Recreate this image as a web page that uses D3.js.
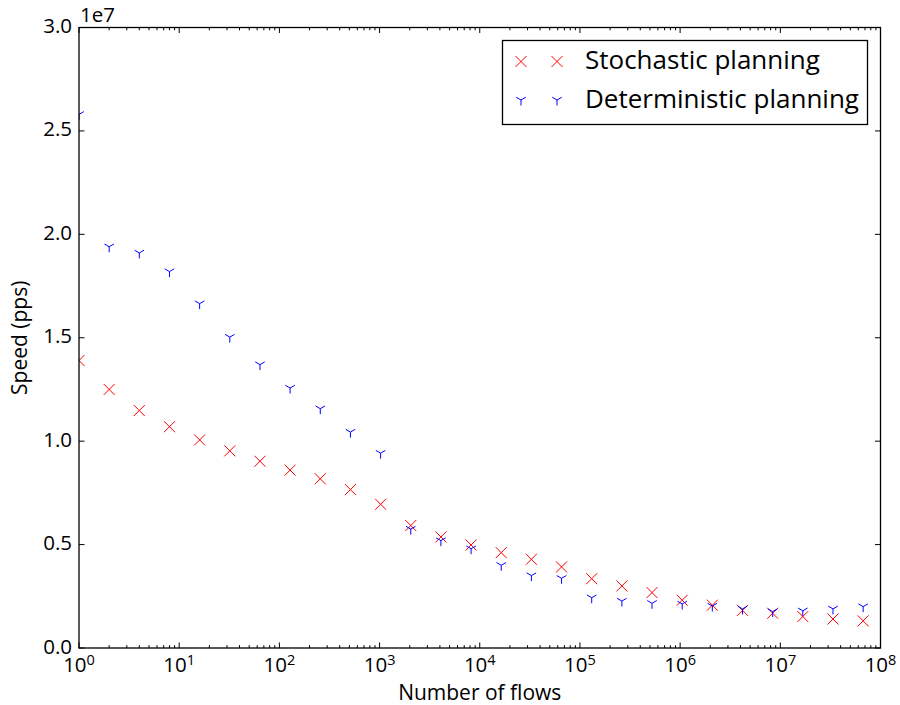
<!DOCTYPE html>
<html>
<head>
<meta charset="utf-8">
<script src="https://cdn.jsdelivr.net/npm/d3@7"></script>
<style>
  html, body { margin: 0; padding: 0; background: #fff; }
  svg { display: block; font-family: "Open Sans", "DejaVu Sans", sans-serif; }
</style>
</head>
<body>
<svg id="chart" width="900" height="705"></svg>
<script>
// Number of flows (powers of two)
const flows = [1, 2, 4, 8, 16, 32, 64, 128, 256, 512, 1024, 2048, 4096, 8192,
  16384, 32768, 65536, 131072, 262144, 524288, 1048576, 2097152, 4194304,
  8388608, 16777216, 33554432, 67108864];

// Forwarding speed in packets per second
const stochastic = [13.9e6, 12.5e6, 11.48e6, 10.7e6, 10.06e6, 9.53e6, 9.03e6, 8.6e6,
  8.18e6, 7.66e6, 6.95e6, 5.92e6, 5.37e6, 4.98e6, 4.61e6, 4.29e6, 3.92e6, 3.35e6,
  3.0e6, 2.68e6, 2.31e6, 2.07e6, 1.82e6, 1.68e6, 1.52e6, 1.40e6, 1.31e6];
const deterministic = [25.8e6, 19.4e6, 19.1e6, 18.2e6, 16.65e6, 15.03e6, 13.7e6, 12.57e6,
  11.57e6, 10.44e6, 9.42e6, 5.75e6, 5.19e6, 4.8e6, 4.0e6, 3.5e6, 3.37e6, 2.43e6,
  2.27e6, 2.16e6, 2.13e6, 2.03e6, 1.89e6, 1.76e6, 1.8e6, 1.89e6, 2.0e6];

const seriesNames = ["Stochastic planning", "Deterministic planning"];
const xTickExponents = [0, 1, 2, 3, 4, 5, 6, 7, 8];
const yTickValues = [0, 0.5e7, 1.0e7, 1.5e7, 2.0e7, 2.5e7, 3.0e7];
const yTickLabels = ["0.0", "0.5", "1.0", "1.5", "2.0", "2.5", "3.0"];

const svg = d3.select("#chart");
const L = 79, R = 880.5, T = 27.5, B = 648;

const x = d3.scaleLog().domain([1, 1e8]).range([L, R]);
const y = d3.scaleLinear().domain([0, 3e7]).range([B, T]);

const red = "#ff0000", blue = "#0000ff";
const ms = 11; // marker size in px

function xMarker(g, cx, cy) {
  const h = ms / 2;
  g.append("path")
    .attr("d", `M${cx - h},${cy - h}L${cx + h},${cy + h}M${cx - h},${cy + h}L${cx + h},${cy - h}`)
    .attr("stroke", red).attr("stroke-width", 1).attr("fill", "none");
}
function triDown(g, cx, cy) {
  const r = ms / 2;
  g.append("path")
    .attr("d", `M${cx},${cy}L${cx},${cy + r}M${cx},${cy}L${cx + 0.866 * r},${cy - 0.5 * r}M${cx},${cy}L${cx - 0.866 * r},${cy - 0.5 * r}`)
    .attr("stroke", blue).attr("stroke-width", 1).attr("fill", "none");
}

// Plot area clip
svg.append("defs").append("clipPath").attr("id", "plotclip")
  .append("rect").attr("x", L).attr("y", T).attr("width", R - L).attr("height", B - T);

const plot = svg.append("g").attr("clip-path", "url(#plotclip)");
const gs = plot.append("g");
flows.forEach((f, i) => xMarker(gs, x(f), y(stochastic[i])));
const gd = plot.append("g");
flows.forEach((f, i) => triDown(gd, x(f), y(deterministic[i])));

// Ticks (inward, on all four sides)
const axisG = svg.append("g").attr("stroke", "#000").attr("stroke-width", 1);
const majorLen = 5.5, minorLen = 2.8;
xTickExponents.forEach(e => {
  const px = x(Math.pow(10, e));
  axisG.append("line").attr("x1", px).attr("x2", px).attr("y1", B).attr("y2", B - majorLen);
  axisG.append("line").attr("x1", px).attr("x2", px).attr("y1", T).attr("y2", T + majorLen);
  if (e < 8) {
    for (let m = 2; m <= 9; m++) {
      const mx = x(m * Math.pow(10, e));
      axisG.append("line").attr("x1", mx).attr("x2", mx).attr("y1", B).attr("y2", B - minorLen);
      axisG.append("line").attr("x1", mx).attr("x2", mx).attr("y1", T).attr("y2", T + minorLen);
    }
  }
});
yTickValues.forEach(v => {
  const py = y(v);
  axisG.append("line").attr("x1", L).attr("x2", L + majorLen).attr("y1", py).attr("y2", py);
  axisG.append("line").attr("x1", R).attr("x2", R - majorLen).attr("y1", py).attr("y2", py);
});

// Frame
svg.append("rect").attr("x", L).attr("y", T).attr("width", R - L).attr("height", B - T)
  .attr("fill", "none").attr("stroke", "#000").attr("stroke-width", 1.3);

// Tick labels
const fs = 20.5;
xTickExponents.forEach(e => {
  const t = svg.append("text").attr("x", x(Math.pow(10, e))).attr("y", B + 24)
    .attr("text-anchor", "middle").attr("font-size", fs).attr("fill", "#000");
  t.append("tspan").text("10");
  t.append("tspan").attr("font-size", 14.5).attr("dy", -7).text(String(e));
});
yTickValues.forEach((v, i) => {
  svg.append("text").attr("x", L - 7).attr("y", y(v) + 5.5)
    .attr("text-anchor", "end").attr("font-size", fs).attr("fill", "#000")
    .text(yTickLabels[i]);
});
svg.append("text").attr("x", L + 1).attr("y", 22).attr("font-size", fs).attr("fill", "#000").text("1e7");

// Axis titles
svg.append("text").attr("x", (L + R) / 2).attr("y", 700).attr("text-anchor", "middle")
  .attr("font-size", 21).attr("fill", "#000").text("Number of flows");
svg.append("text").attr("transform", `translate(27,${(T + B) / 2}) rotate(-90)`)
  .attr("text-anchor", "middle").attr("font-size", 21).attr("fill", "#000").text("Speed (pps)");

// Legend
const lg = svg.append("g");
lg.append("rect").attr("x", 502.5).attr("y", 40.5).attr("width", 365).attr("height", 84)
  .attr("fill", "#fff").attr("stroke", "#000").attr("stroke-width", 1.3);
const rowsY = [61.5, 100];
[521, 557].forEach(mx => { xMarker(lg, mx, rowsY[0]); triDown(lg, mx, rowsY[1]); });
seriesNames.forEach((name, i) => {
  lg.append("text").attr("x", 585).attr("y", rowsY[i] + 7.5).attr("font-size", 26)
    .attr("fill", "#000").text(name);
});
</script>
</body>
</html>
